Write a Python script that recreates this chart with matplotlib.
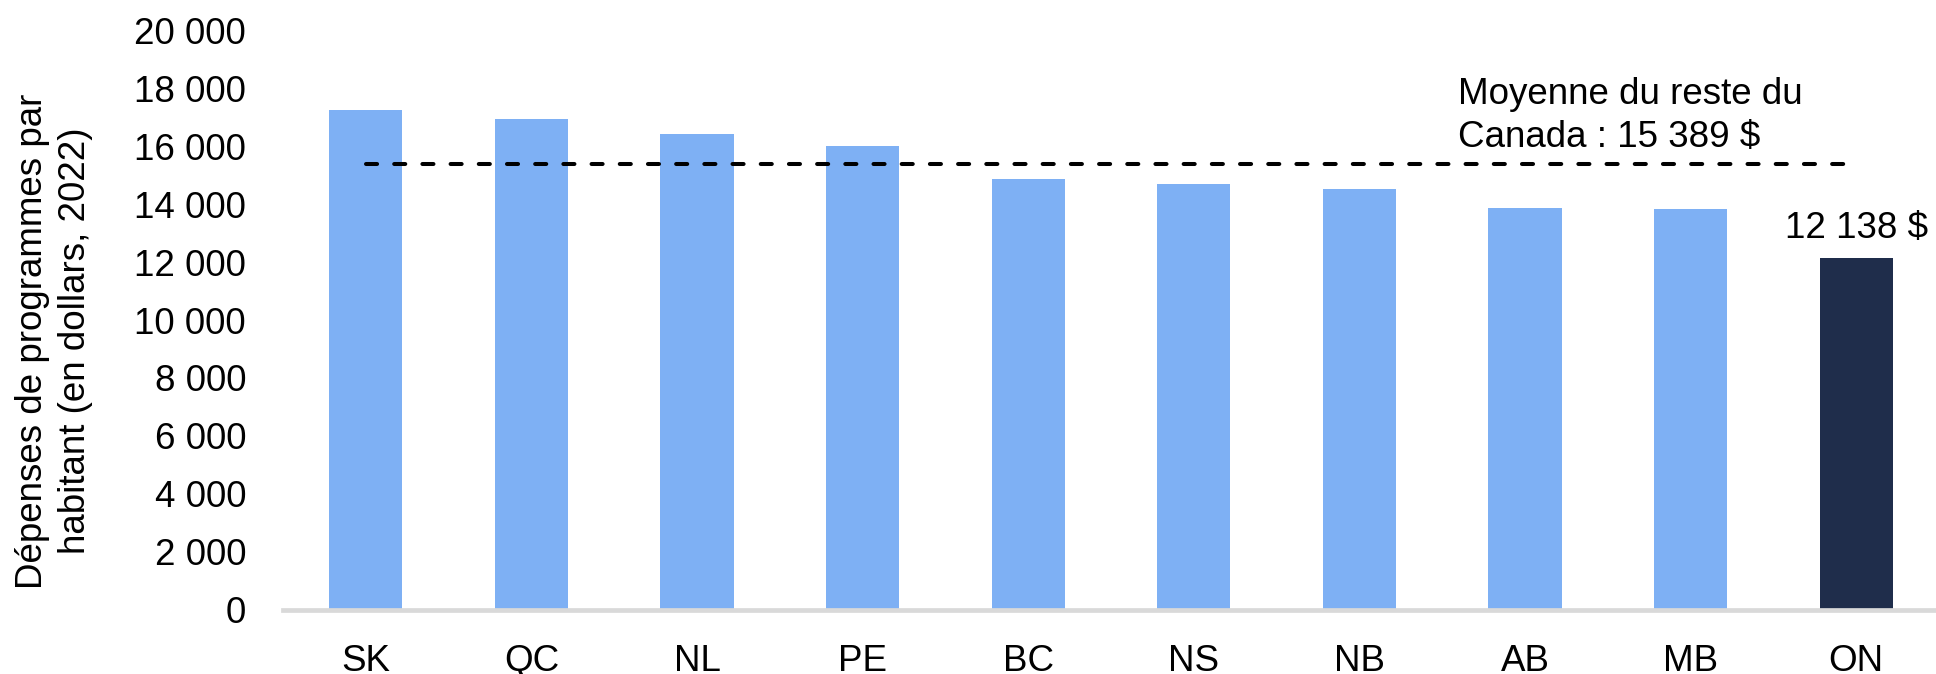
import matplotlib
matplotlib.use("Agg")
import matplotlib.pyplot as plt
import numpy as np

provinces = ["SK", "QC", "NL", "PE", "BC", "NS", "NB", "AB", "MB", "ON"]
spending = [17268, 16940, 16435, 16021, 14870, 14688, 14518, 13865, 13838, 12138]
rest_avg = 15389
yticks = [0, 2000, 4000, 6000, 8000, 10000, 12000, 14000, 16000, 18000, 20000]

FONT = "Liberation Sans"
FS = 26.5
LIGHT = "#7EB0F4"
DARK = "#1F2D4B"

plt.rcParams["font.family"] = [FONT, "DejaVu Sans"]

W, H = 1936, 674
fig = plt.figure(figsize=(W / 100, H / 100), dpi=100)
ax = fig.add_axes([283 / W, (H - 609.5) / H, 1656 / W, 579 / H])

x = np.arange(len(provinces))
colors = [LIGHT] * (len(provinces) - 1) + [DARK]
ax.bar(x, spending, width=0.442, color=colors, zorder=2)

ax.set_xlim(-0.5, len(provinces) - 0.5)
ax.set_ylim(yticks[0], yticks[-1])

ax.axhline(0, color="#D9D9D9", lw=3.4, zorder=3, clip_on=False)

ax.plot([x[0], x[-1]], [rest_avg, rest_avg], color="black", lw=2.9,
        dashes=(2.75, 4.25), dash_capstyle="round", zorder=4)

for s in ax.spines.values():
    s.set_visible(False)

ax.set_xticks(x)
ax.set_xticklabels(provinces, fontsize=FS)
ax.set_yticks(yticks)
ax.set_yticklabels([f"{v:,}".replace(",", " ") for v in yticks], fontsize=FS)
ax.tick_params(axis="x", length=0, pad=25)
ax.tick_params(axis="y", length=0, pad=26.6)

fig.text(1458 / W, 1 - 147.3 / H,
         "Moyenne du reste du\nCanada : " + f"{rest_avg:,}".replace(",", " ") + " $",
         fontsize=FS, ha="left", va="baseline", linespacing=1.3)

on_val = spending[-1]
ax.annotate(f"{on_val:,}".replace(",", " ") + " $", xy=(x[-1], on_val),
            xytext=(0, 14.4), textcoords="offset points",
            ha="center", va="baseline", fontsize=FS)

fig.text(54 / W, 1 - 341 / H,
         "Dépenses de programmes par\nhabitant (en dollars, 2022)",
         rotation=90, ha="center", va="center", multialignment="center",
         fontsize=FS, linespacing=1.3)

fig.savefig("out.png", dpi=100)
